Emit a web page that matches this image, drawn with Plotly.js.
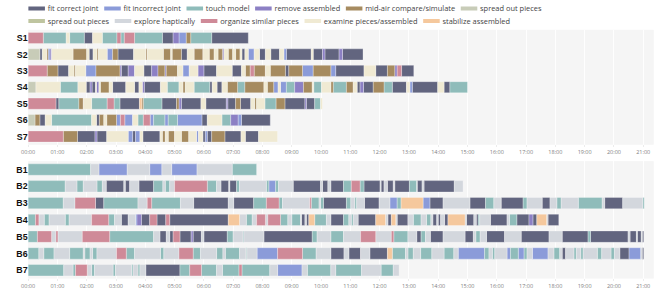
<!DOCTYPE html>
<html><head><meta charset="utf-8">
<script src="https://cdn.plot.ly/plotly-3.0.1.min.js"></script>
<style>
html,body{margin:0;padding:0;overflow:hidden;background:#fff;width:662px;height:297px}
#wrap{width:662px;height:297px;overflow:hidden;position:relative}
#chart{width:1200px;height:538px;transform:scale(0.55167);transform-origin:0 0;position:absolute;left:0;top:0}
</style>
</head><body><div id="wrap"><div id="chart"></div></div>
<script>
// ---------- data ----------
const categoryCodes = ['F','I','T','R','M','P','Q','E','O','X','Z'];
const categoryNames = ['fit correct joint','fit incorrect joint','touch model','remove assembled','mid-air compare/simulate','spread out pieces','spread out pieces','explore haptically','organize similar pieces','examine pieces/assembled','stabilize assembled'];

const tickMinutes = [0,60,120,180,240,300,360,420,480,540,600,660,720,780,840,900,960,1020,1080,1140,1200,1260];
const tickLabels = ['00:00','01:00','02:00','03:00','04:00','05:00','06:00','07:00','08:00','09:00','10:00','11:00','12:00','13:00','14:00','15:00','16:00','17:00','18:00','19:00','20:00','21:00'];

const topRows = ['S1','S2','S3','S4','S5','S6','S7'];
const bottomRows = ['B1','B2','B3','B4','B5','B6','B7'];

// segment boundaries (minutes) and activity codes per participant
const S1_t = [0,31,78,85,115,132,152,182,190,197,218,275,297,309,324,333,376,451];
const S1_c = 'O T X T F X T O T O T F R I M T F'.split(' ');
const S2_t = [0,24,29,38,41,45,48,92,120,125,133,141,144,162,173,184,216,241,244,277,292,295,314,326,340,358,371,381,389,398,401,410,419,425,434,438,444,451,463,474,486,497,515,524,529,580,584,603,608,637,644,686];
const S2_c = 'P F X M I R X M X F X M X I M F X M X M X M F X M X M X M R X M X M X F X I X F X F X I F X F R F R F'.split(' ');
const S3_t = [0,39,61,83,94,97,118,139,188,191,205,218,237,253,266,280,283,306,317,330,348,360,386,418,437,445,455,463,486,496,527,534,562,584,620,630,688,712,736,751,756,765,790];
const S3_c = 'O M F X M X I M R F R X F R M R M X I X R F X F X M O M X M F M I M I F X F M R O F'.split(' ');
const S4_t = [0,16,66,102,119,127,131,138,140,145,148,166,173,200,218,227,234,238,271,285,309,317,322,340,372,377,387,397,408,429,444,483,490,503,512,517,529,546,564,582,585,601,620,625,652,666,674,680,687,707,729,746,775,782,787,839,852,864,900];
const S4_c = 'P X T X F R F X R X M X F X F X R F X T X M X T F X F X M T M X M I X I T R M X T X M T M X F R F M T F X I F X F T'.split(' ');
const S5_t = [0,57,63,104,113,130,162,176,188,228,233,236,274,304,309,314,354,364,406,409,425,435,456,464,468,485,508,526,567,570,587,599,603];
const S5_c = 'O F T M X T O T F Z M T F M R F X F R F M F X M X T M F R F T X'.split(' ');
const S6_t = [0,14,24,35,48,130,140,146,155,161,181,189,198,214,225,236,250,257,280,287,306,356,367,397,415,430,437,496];
const S6_c = 'P M F X T X F M X M I O I X T O I T I T I F X T R I F'.split(' ');
const S7_t = [0,72,101,137,141,161,205,214,220,229,235,270,275,281,287,300,314,329,345,349,358,363,367,376,403,436,445,472,511];
const S7_c = 'O M F R F X I F I X F X M X M X M X I X F I F M F X F X'.split(' ');

const B1_t = [0,128,145,203,249,274,294,346,418,468];
const B1_c = 'T E I E I E I E T'.split(' ');
const B2_t = [0,76,100,113,141,152,160,196,199,208,227,257,276,281,290,300,367,386,395,411,413,427,433,488,493,507,513,543,599,603,614,620,646,662,680,688,721,723,729,736,748,751,781,796,797,807,811,873,891];
const B2_c = 'T E T E T E F E F E F T E T E O T E F E F T E T I T E F E F E F T O T F E F E F E F T E F E F E'.split(' ');
const B3_t = [0,72,96,138,155,225,244,253,312,339,410,421,462,488,514,521,577,580,596,599,605,652,661,669,673,689,719,741,756,764,809,823,850,905,937,954,969,1014,1022,1053,1069,1083,1092,1127,1176,1181,1218,1259,1262];
const B3_c = 'T E O F T E O T E F E F T O T E O T E T F T E T E F E I T Z I F E F T E F T E F E T E T E F E T'.split(' ');
const B4_t = [0,15,22,33,43,76,84,130,165,177,191,205,220,223,232,249,264,282,290,410,433,447,459,468,486,491,517,532,540,558,560,567,570,575,587,611,620,646,657,662,666,676,712,732,737,744,753,756,778,789,805,816,825,829,837,840,845,853,860,895,898,913,918,922,925,947,981,986,1001,1026,1034,1042,1062,1065,1087];
const B4_c = 'T O E T E T E O T E F E I R F O F O F Z E T E O E O T E T E F E F Z T E F T E T E F Z E F Z E F E T E T E F E F E F Z E F E F T E F E T F R F Z E F'.split(' ');
const B5_t = [0,19,48,57,61,111,167,257,270,283,290,297,311,334,338,355,360,408,420,440,442,483,582,592,620,646,681,712,744,749,778,796,805,814,824,850,895,912,917,926,939,976,1010,1067,1094,1147,1152,1229,1233,1246,1248,1256,1258,1261];
const B5_c = 'T O E O E O T E F E F O F R F E F T E T E F T E T E O E O T E F T E F E F E T E F E F E F T F E F E F E F'.split(' ');
const B6_t = [0,22,32,53,85,113,116,127,132,141,181,201,218,271,278,309,338,353,386,399,404,433,446,448,469,511,562,590,620,647,657,681,700,736,746,773,778,789,804,827,852,872,881,935,944,951,956,981,988,1004,1016,1022,1033,1065,1077,1089,1094,1101,1118,1123,1132,1137,1166,1175,1194,1201,1212,1231,1255,1258,1261];
const B6_c = 'T E T E T E T E T E O T E T E O T E T E T E T E I O T E F E F E F Z T E T E T E T E I T E T E I T I T E I E T E F E T E T E T E T E F I E F'.split(' ');
const B7_t = [0,73,92,97,121,130,136,174,179,212,215,225,229,241,311,331,355,386,398,432,438,495,511,561,572,620,630,683,723,748,760];
const B7_c = 'T E T O E T E T E T E T E F T O T E T O T E I E T E T E T E'.split(' ');

// ---------- style ----------
const COLORS = {F:'#62657f', I:'#8b9bd9', T:'#8fbcba', R:'#8c80c4', M:'#a68b60', P:'#c8ccb8', Q:'#bfc5a0', E:'#d3d7dd', O:'#cf8a98', X:'#f0ead3', Z:'#f5c89d'};

function buildTraces(rows, tArrs, cArrs, xa, ya) {
  const traces = [];
  categoryCodes.forEach((code, k) => {
    const y = [], base = [], x = [];
    rows.forEach((r, i) => {
      const t = tArrs[i], c = cArrs[i];
      c.forEach((cc, j) => {
        if (cc === code) { y.push(r); base.push(t[j]); x.push(t[j+1] - t[j]); }
      });
    });
    if (y.length) traces.push({
      type:'bar', orientation:'h', y:y, x:x, base:base, xaxis:xa, yaxis:ya,
      width:0.68, name:categoryNames[k], showlegend:false, hoverinfo:'skip',
      marker:{color:COLORS[code], line:{color:'rgba(255,255,255,0.55)', width:1}}
    });
  });
  return traces;
}

// first six entries in the first legend row, the rest in a second row
const legendTraces = categoryCodes.map((code, k) => ({
  type:'scatter', mode:'lines', x:[null], y:[null], xaxis:'x', yaxis:'y',
  name:categoryNames[k], line:{color:COLORS[code], width:7}, showlegend:true, hoverinfo:'skip',
  legend: k < 6 ? 'legend' : 'legend2'
}));

const data = legendTraces
  .concat(buildTraces(topRows, [S1_t,S2_t,S3_t,S4_t,S5_t,S6_t,S7_t], [S1_c,S2_c,S3_c,S4_c,S5_c,S6_c,S7_c], 'x', 'y'))
  .concat(buildTraces(bottomRows, [B1_t,B2_t,B3_t,B4_t,B5_t,B6_t,B7_t], [B1_c,B2_c,B3_c,B4_c,B5_c,B6_c,B7_c], 'x2', 'y2'));

const xCommon = {
  range:[0,1281.5], tickmode:'array', tickvals:tickMinutes, ticktext:tickLabels,
  showgrid:true, gridcolor:'#ffffff', gridwidth:1.5, zeroline:false, showline:false,
  ticks:'outside', ticklen:4, tickcolor:'#dddddd', tickfont:{size:10, color:'#808080'}, fixedrange:true
};
const yCommon = {
  type:'category', range:[6.5,-0.5], showgrid:false, zeroline:false, showline:false, ticks:'',
  tickfont:{family:'Arial, Liberation Sans, sans-serif', size:16, color:'#111111', weight:'bold'}, fixedrange:true
};
const legendCommon = {orientation:'h', xref:'container', yref:'container', x:0.0387, xanchor:'left', yanchor:'middle',
  font:{size:13.5, color:'#444444'}, bgcolor:'rgba(0,0,0,0)', tracegroupgap:0};

const layout = {
  width:1200, height:538,
  margin:{l:51, r:14.5, t:53.5, b:33, autoexpand:false},
  paper_bgcolor:'#ffffff', plot_bgcolor:'#f5f5f5',
  barmode:'overlay', showlegend:true,
  legend:Object.assign({}, legendCommon, {y:0.971}),
  legend2:Object.assign({}, legendCommon, {y:0.929}),
  xaxis:Object.assign({}, xCommon, {anchor:'y', domain:[0,1]}),
  xaxis2:Object.assign({}, xCommon, {anchor:'y2', domain:[0,1]}),
  yaxis:Object.assign({}, yCommon, {anchor:'x', domain:[0.538,1], categoryarray:topRows, categoryorder:'array'}),
  yaxis2:Object.assign({}, yCommon, {anchor:'x2', domain:[0,0.472], categoryarray:bottomRows, categoryorder:'array'})
};

Plotly.newPlot('chart', data, layout, {displayModeBar:false, staticPlot:true});
</script></body></html>
